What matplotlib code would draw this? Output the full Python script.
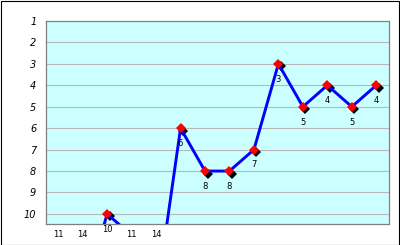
import matplotlib
matplotlib.use("Agg")
import matplotlib.pyplot as plt
import matplotlib.transforms as mtransforms
from matplotlib.patches import Rectangle

values = [11, 14, 10, 11, 14, 6, 8, 8, 7, 3, 5, 4, 5, 4]
y_ticks = [1, 2, 3, 4, 5, 6, 7, 8, 9, 10]
y_bottom = 10.47

fig = plt.figure(figsize=(4.0, 2.45), dpi=100)
fig.patch.set_facecolor("white")
ax = fig.add_axes([46 / 400, 1 - 224 / 245, (388.5 - 46) / 400, (224 - 21) / 245])
ax.set_facecolor("#ccffff")

x = list(range(len(values)))
ax.set_xlim(-0.5, len(values) - 0.5)
ax.set_ylim(y_bottom, 1)

for t in y_ticks[1:]:
    ax.axhline(t, color="#b8b8b8", lw=0.8, zorder=1)

ax.set_yticks(y_ticks)
ax.set_yticklabels([str(t) for t in y_ticks], fontsize=7, fontstyle="italic")
ax.tick_params(axis="y", length=0, pad=7)
ax.set_xticks([])
for s in ax.spines.values():
    s.set_color("#808080")
    s.set_linewidth(0.9)

in_x = [xi for xi, v in zip(x, values) if v <= 10]
in_v = [v for v in values if v <= 10]

shadow_tr = mtransforms.offset_copy(ax.transData, fig=fig, x=2.5, y=-2.5, units="dots")
ax.plot(in_x, in_v, linestyle="none", marker="D", markersize=5.1, mew=0,
        color="black", transform=shadow_tr, zorder=2)
ax.plot(x, values, color="#0000ff", lw=2.1, zorder=3, solid_joinstyle="round")
ax.plot(in_x, in_v, linestyle="none", marker="D", markersize=5.1, mew=0,
        color="#ff0000", zorder=4)

for xi, v in zip(x, values):
    if v <= 10:
        ax.annotate(str(v), xy=(xi, v), xytext=(0, -11), textcoords="offset points",
                    ha="center", va="center", fontsize=6, annotation_clip=False, zorder=5)
    else:
        ax.annotate(str(v), xy=(xi, y_bottom), xytext=(0, -7.3), textcoords="offset points",
                    ha="center", va="center", fontsize=6, annotation_clip=False, zorder=5)

fig.add_artist(Rectangle((0.5 / 400, 0.5 / 245), 1 - 1.5 / 400, 1 - 1.5 / 245,
                         transform=fig.transFigure, fill=False, lw=0.8, edgecolor="black"))

fig.savefig("out.png", dpi=100)
